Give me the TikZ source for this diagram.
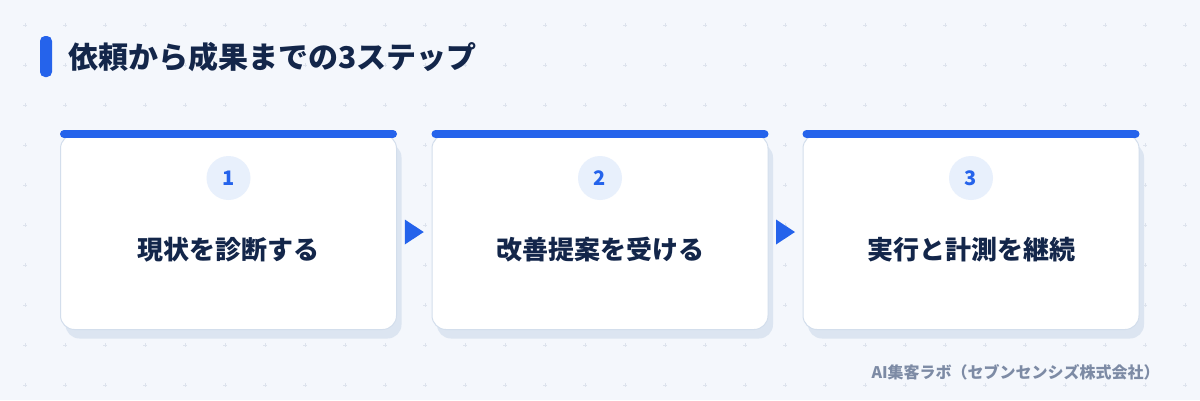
\documentclass[tikz,border=0pt]{standalone}
\usepackage{fontspec}
\setmainfont{Noto Sans CJK JP}
\usetikzlibrary{positioning}

\definecolor{pagebg}{HTML}{F4F7FC}
\definecolor{accent}{HTML}{2563EB}
\definecolor{ink}{HTML}{13264A}
\definecolor{cardline}{HTML}{D3DEEC}
\definecolor{cardshade}{HTML}{DCE5F1}
\definecolor{badgebg}{HTML}{E8F0FC}
\definecolor{gridmark}{HTML}{DDE3ED}
\definecolor{credit}{HTML}{7D8BA5}

\tikzset{
  card/.style={draw=cardline, line width=1pt, fill=white, rounded corners=14pt,
    minimum width=336pt, minimum height=195pt, inner sep=0pt},
  cardshadow/.style={fill=cardshade, rounded corners=14pt,
    minimum width=336pt, minimum height=195pt, inner sep=0pt},
  topbar/.style={accent, line width=8pt, line cap=round},
  badge/.style={circle, fill=badgebg, minimum size=44pt, inner sep=0pt,
    text=accent, font=\bfseries\fontsize{20}{20}\selectfont},
  steptext/.style={text=ink, font=\bfseries\fontsize{26}{26}\selectfont},
  pointer/.style={fill=accent},
}

\begin{document}
\begin{tikzpicture}[x=1pt, y=-1pt]
  \useasboundingbox (0, 0) rectangle (1200, 400);
  \fill[pagebg] (0, 0) rectangle (1200, 400);

  % Background grid marks
  \foreach \gx in {25, 65, ..., 1185} {
    \foreach \gy in {25, 65, ..., 385} {
      \draw[gridmark, line width=0.8pt] (\gx - 2, \gy) -- (\gx + 2, \gy)
        (\gx, \gy - 2) -- (\gx, \gy + 2);
    }
  }

  % Title
  \fill[accent, rounded corners=5pt] (40, 36) rectangle (52, 77);
  \node[anchor=west, text=ink, font=\bfseries\fontsize{30}{30}\selectfont]
    (title) at (65, 57) {依頼から成果までの3ステップ};

  % Step 1
  \node[cardshadow] at (233.5, 241) {};
  \node[card] (card1) at (228.5, 232) {};
  \draw[topbar] ([xshift=4pt]card1.north west) -- ([xshift=-4pt]card1.north east);
  \node[badge] (num1) at (228.5, 178) {1};
  \node[steptext] (label1) at (228.5, 250) {現状を診断する};

  % Step 2
  \node[cardshadow] at (605, 241) {};
  \node[card] (card2) at (600, 232) {};
  \draw[topbar] ([xshift=4pt]card2.north west) -- ([xshift=-4pt]card2.north east);
  \node[badge] (num2) at (600, 178) {2};
  \node[steptext] (label2) at (600, 250) {改善提案を受ける};

  % Step 3
  \node[cardshadow] at (976, 241) {};
  \node[card] (card3) at (971, 232) {};
  \draw[topbar] ([xshift=4pt]card3.north west) -- ([xshift=-4pt]card3.north east);
  \node[badge] (num3) at (971, 178) {3};
  \node[steptext] (label3) at (971, 250) {実行と計測を継続};

  % Pointers between the steps
  \path (card1.east) -- coordinate (gap12) (card2.west);
  \path (card2.east) -- coordinate (gap23) (card3.west);
  \fill[pointer] ([xshift=-9.5pt, yshift=-12.5pt]gap12) -- ([xshift=9.5pt]gap12)
    -- ([xshift=-9.5pt, yshift=12.5pt]gap12) -- cycle;
  \fill[pointer] ([xshift=-9.5pt, yshift=-12.5pt]gap23) -- ([xshift=9.5pt]gap23)
    -- ([xshift=-9.5pt, yshift=12.5pt]gap23) -- cycle;

  % Credit
  \node[anchor=west, text=credit, font=\bfseries\fontsize{16}{16}\selectfont]
    (credit) at (868, 372) {AI集客ラボ（セブンセンシズ株式会社）};
\end{tikzpicture}
\end{document}
